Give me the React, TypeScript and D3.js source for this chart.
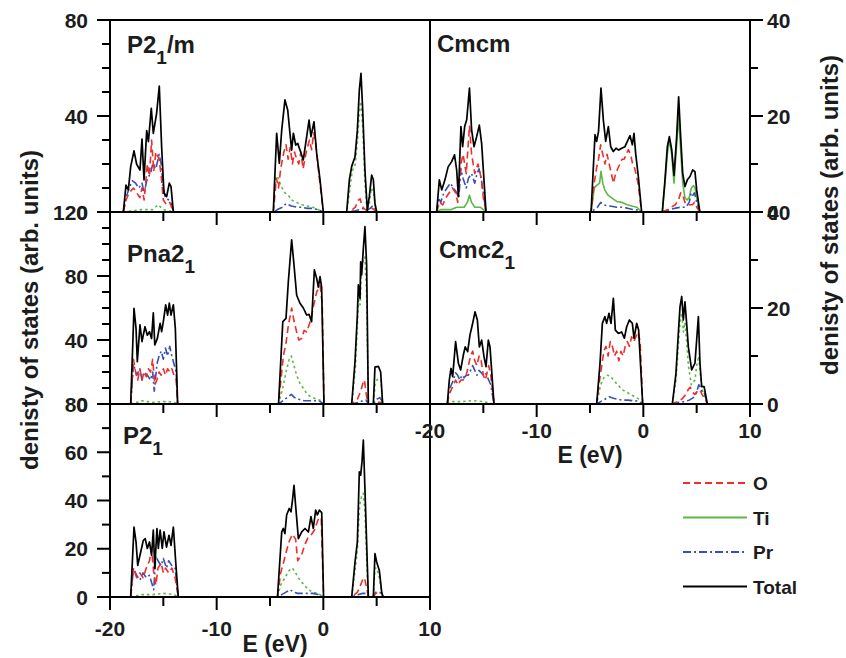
import React from 'react';
import * as d3 from 'd3';

type Pt = [number, number];

// ---------- Data: energies (eV) and DOS values (arb. units) ----------
// P2_1/m
const p21m_Total: Pt[] = [[-18.75,0],[-18.5,11.2],[-18.28,9.2],[-18.06,18.9],[-17.75,25.5],[-17.5,19.9],[-17.19,17.5],[-17.0,30.4],[-16.81,13.4],[-16.56,33.9],[-16.4,29.3],[-16.13,43.2],[-15.94,32.8],[-15.63,41.1],[-15.38,52.5],[-15.16,27.2],[-14.94,7.8],[-14.69,6.4],[-14.44,12.0],[-14.28,10.6],[-14.06,0],[-4.69,0],[-4.375,32.8],[-4.125,20.3],[-3.9,34.2],[-3.6,46.7],[-3.34,42.5],[-3.13,32.8],[-2.97,25.8],[-2.81,32.8],[-2.59,27.9],[-2.4,28.6],[-2.19,25.8],[-1.88,21.7],[-1.56,31.4],[-1.34,38.3],[-1.16,31.4],[-0.875,37.6],[-0.625,24.4],[-0.31,13.4],[0,0],[2.19,0],[2.44,13.4],[2.66,19],[2.97,23],[3.19,34],[3.375,50.8],[3.53,57.8],[3.69,42.5],[3.9,17.5],[4.125,0.7],[4.31,6.4],[4.53,15.4],[4.69,13.4],[4.84,3.5],[5.0,0]];
const p21m_O: Pt[] = [[-18.75,0],[-18.5,5],[-18.2,8],[-17.8,10],[-17.5,8],[-17.2,6],[-17.0,10],[-16.8,5],[-16.5,20],[-16.3,15],[-16.1,30],[-15.9,17],[-15.7,25],[-15.4,22],[-15.2,15],[-15.0,5],[-14.7,3],[-14.4,4],[-14.06,0],[-4.69,0],[-4.4,14],[-4.2,10],[-4.0,18],[-3.7,25],[-3.5,28],[-3.3,22],[-3.1,27],[-2.9,20],[-2.7,25],[-2.5,22],[-2.3,20],[-2.1,25],[-1.9,18],[-1.6,25],[-1.3,30],[-1.1,26],[-0.9,33],[-0.7,28],[-0.4,15],[0,0],[2.19,0],[2.6,0.5],[3.0,2],[3.3,5],[3.45,5.5],[3.6,3],[3.8,1.5],[4.1,0.5],[4.4,1],[4.6,1.5],[5.0,0]];
const p21m_Ti: Pt[] = [[-18.75,0],[-18,0.5],[-17,1],[-16,1],[-15.5,3],[-15,1],[-14.5,0.5],[-14.06,0],[-4.69,0],[-4.5,15],[-4.2,14],[-4.0,11],[-3.6,8],[-3.2,6.5],[-3.0,5],[-2.5,4],[-2.0,3],[-1.5,2.5],[-1.0,2],[-0.5,1],[0,0],[2.19,0],[2.5,10],[2.7,17],[3.0,20],[3.2,30],[3.4,43],[3.5,46],[3.7,35],[3.9,12],[4.1,0.5],[4.3,3],[4.5,10],[4.7,8],[4.9,2],[5.0,0]];
const p21m_Pr: Pt[] = [[-18.75,0],[-18.5,6],[-18.2,10],[-17.9,13],[-17.6,12],[-17.3,10],[-17.0,12],[-16.8,8],[-16.5,14],[-16.2,16],[-16.0,20],[-15.7,18],[-15.4,24],[-15.2,20],[-15.0,10],[-14.8,6],[-14.5,5],[-14.2,3],[-14.06,0],[-4.69,0],[-4.3,1],[-3.8,2],[-3.5,3.5],[-3.0,2.5],[-2.5,2],[-2.0,2],[-1.5,1.5],[-1.0,1.5],[-0.5,1],[0,0],[2.19,0],[3.0,0.5],[3.4,1],[3.7,1.5],[4.0,0.5],[4.4,1.5],[4.6,2.5],[4.8,2],[5.0,0]];

// Pna2_1
const pna21_Total: Pt[] = [[-18.06,0],[-17.75,59.8],[-17.56,47.3],[-17.44,26.5],[-17.19,49.4],[-17.0,39],[-16.72,48.3],[-16.5,43],[-16.3,45.2],[-16.1,41],[-15.94,57],[-15.8,36.9],[-15.56,41],[-15.3,50.4],[-15.16,45.2],[-15.0,51.5],[-14.78,62],[-14.6,55.6],[-14.44,63],[-14.28,55.6],[-14.06,62],[-13.875,47.3],[-13.66,0],[-4.2,0],[-3.8,51.5],[-3.5,53.5],[-3.28,76.6],[-2.97,102.6],[-2.75,86.9],[-2.5,68],[-2.19,63],[-1.875,60],[-1.56,55.6],[-1.34,56],[-1.1,51.5],[-0.84,83.8],[-0.625,78.5],[-0.47,73],[-0.31,79.6],[-0.16,73],[0.06,0],[2.66,0],[2.97,26.5],[3.19,55.6],[3.28,74.4],[3.44,66],[3.5,88.9],[3.59,80.6],[3.75,97],[3.9,110.8],[4.06,86.9],[4.22,0],[4.69,0],[4.84,23],[5.16,23.5],[5.375,20],[5.56,0]];
const pna21_O: Pt[] = [[-18.06,0],[-17.8,28],[-17.6,20],[-17.4,15],[-17.2,22],[-17.0,15],[-16.8,20],[-16.6,17],[-16.4,22],[-16.2,20],[-16.0,28],[-15.8,12],[-15.6,15],[-15.4,20],[-15.2,18],[-15.0,22],[-14.8,18],[-14.6,22],[-14.4,20],[-14.2,22],[-14.0,18],[-13.8,15],[-13.66,0],[-4.2,0],[-3.9,20],[-3.75,30],[-3.5,38],[-3.28,49],[-2.97,60],[-2.75,52],[-2.5,45],[-2.3,40],[-2.03,41],[-1.8,46],[-1.56,45],[-1.3,50],[-1.1,55],[-0.9,62],[-0.625,70],[-0.3,74],[-0.1,62],[0.06,0],[2.66,0],[3.2,3],[3.5,8],[3.75,14],[3.85,15],[4.05,5],[4.22,0],[4.69,0],[5.0,1],[5.5,1],[5.56,0]];
const pna21_Ti: Pt[] = [[-18.06,0],[-17.5,1],[-17,2],[-16.5,1.5],[-16,1],[-15,1.5],[-14.5,1.5],[-14,1],[-13.66,0],[-4.2,0],[-3.8,10],[-3.5,20],[-3.2,28],[-3.0,30],[-2.8,25],[-2.5,18],[-2.2,13],[-1.9,10],[-1.6,7],[-1.3,5],[-1.0,4],[-0.6,3],[-0.2,2],[0.06,0],[2.66,0],[3.0,22],[3.2,50],[3.3,65],[3.45,62],[3.55,80],[3.75,90],[3.9,92],[4.05,70],[4.22,0],[4.69,0],[4.85,12],[5.1,16],[5.4,15],[5.56,0]];
const pna21_Pr: Pt[] = [[-18.06,0],[-17.8,25],[-17.5,18],[-17.2,22],[-17.0,15],[-16.8,20],[-16.5,18],[-16.2,15],[-16.0,20],[-15.85,8],[-15.6,25],[-15.4,30],[-15.2,33],[-15.0,28],[-14.8,35],[-14.6,30],[-14.4,36],[-14.2,30],[-14.0,25],[-13.8,20],[-13.66,0],[-4.2,0],[-3.8,2],[-3.4,4],[-3.0,6],[-2.7,4],[-2.3,3],[-1.8,2],[-1.3,2],[-0.8,2],[-0.4,2],[0.06,0],[2.66,0],[3.3,1],[3.7,2],[4.0,2.5],[4.22,0],[4.69,0],[5.0,3],[5.3,4],[5.5,2],[5.56,0]];

// P2_1
const p21_Total: Pt[] = [[-18.06,0],[-17.75,29],[-17.56,22.8],[-17.4,13.1],[-17.19,17.3],[-16.875,23.5],[-16.7,24.2],[-16.5,20.1],[-16.3,22.8],[-16.1,17.3],[-15.94,27.7],[-15.8,11.8],[-15.6,28.4],[-15.47,20.1],[-15.3,27.7],[-15.1,20.1],[-14.94,27],[-14.7,20.7],[-14.47,25.6],[-14.28,21.4],[-14.06,29],[-13.84,14.5],[-13.6,0],[-4.3,0],[-3.9,27],[-3.75,28.4],[-3.6,26.3],[-3.44,34],[-3.2,36.7],[-3.03,35.3],[-2.875,40.8],[-2.75,46.3],[-2.6,38],[-2.34,24.2],[-2.03,27],[-1.72,28.4],[-1.4,27],[-1.16,33.3],[-0.94,28.4],[-0.72,36],[-0.56,34],[-0.375,36],[-0.15,35],[0.02,0],[2.66,0],[2.97,14.5],[3.19,22.8],[3.375,51.9],[3.5,50.5],[3.625,56],[3.75,65],[3.9,45],[4.125,13.1],[4.22,0],[4.69,0],[4.84,18],[5.0,14.5],[5.25,11],[5.47,2],[5.6,0]];
const p21_O: Pt[] = [[-18.06,0],[-17.8,12],[-17.5,8],[-17.2,10],[-16.9,8],[-16.6,12],[-16.3,15],[-16.1,20],[-15.9,10],[-15.7,5],[-15.5,12],[-15.2,14],[-15.0,10],[-14.8,12],[-14.5,10],[-14.2,12],[-13.9,8],[-13.6,0],[-4.3,0],[-4.0,10],[-3.75,14],[-3.4,20],[-3.2,23],[-2.9,26],[-2.6,24],[-2.4,15],[-2.0,18],[-1.7,22],[-1.4,25],[-1.1,26],[-0.8,28],[-0.5,32],[-0.2,33],[0.02,0],[2.66,0],[3.2,2],[3.5,5],[3.75,8],[3.9,7],[4.1,3],[4.22,0],[4.69,0],[4.9,1.5],[5.2,2],[5.47,1.5],[5.6,0]];
const p21_Ti: Pt[] = [[-18.06,0],[-17,1],[-16,1],[-15,1.5],[-14,1],[-13.6,0],[-4.3,0],[-4.0,5],[-3.6,8],[-3.2,11],[-2.9,12],[-2.6,10],[-2.2,7],[-1.8,5],[-1.4,3],[-1.0,2],[-0.5,1.5],[0.02,0],[2.66,0],[3.0,12],[3.2,20],[3.4,38],[3.6,42],[3.75,43],[3.9,35],[4.1,12],[4.22,0],[4.69,0],[4.84,12],[5.0,12],[5.25,8],[5.47,2],[5.6,0]];
const p21_Pr: Pt[] = [[-18.06,0],[-17.8,12],[-17.5,9],[-17.2,7],[-16.9,10],[-16.6,8],[-16.3,9],[-16.1,6],[-15.9,3],[-15.7,17],[-15.5,15],[-15.2,13],[-15.0,16],[-14.7,12],[-14.5,15],[-14.2,13],[-13.9,12],[-13.6,0],[-4.3,0],[-3.9,1],[-3.5,2],[-3.1,3],[-2.8,2],[-2.4,1.5],[-2.0,1.5],[-1.5,1.5],[-1.0,1.5],[-0.5,1],[0.02,0],[2.66,0],[3.3,1],[3.7,1.5],[4.0,1.5],[4.22,0],[4.69,0],[4.9,2],[5.2,2],[5.5,1.5],[5.6,0]];

// Cmcm
const cmcm_Total: Pt[] = [[-19.375,0],[-19.125,6.7],[-18.9,4.6],[-18.6,6.7],[-18.3,9.4],[-17.97,10.5],[-17.7,11.9],[-17.5,8.75],[-17.34,3.2],[-17.1,17.8],[-16.94,13.6],[-16.75,17.8],[-16.56,19.2],[-16.3,25.8],[-16.1,17.1],[-15.875,13.6],[-15.625,15.7],[-15.375,18.1],[-15.16,14.3],[-14.94,6.7],[-14.75,0],[-4.9,0],[-4.53,16.1],[-4.375,14.7],[-4.2,16.8],[-3.97,25.8],[-3.75,19.2],[-3.53,14.7],[-3.28,17.8],[-3.06,13.6],[-2.81,12.6],[-2.56,13.3],[-2.31,12.9],[-2.03,13.3],[-1.72,13.6],[-1.5,14.7],[-1.25,15.9],[-1.03,14],[-0.875,16.4],[-0.72,12.2],[-0.47,7.4],[-0.16,0],[1.78,0],[2.03,6.7],[2.25,13.6],[2.44,15.7],[2.66,13],[2.875,7.6],[3.125,15.7],[3.31,24.0],[3.5,15.7],[3.69,8.1],[3.9,5.3],[4.125,6.7],[4.375,7.4],[4.625,8.75],[4.84,8.4],[5.0,4.6],[5.3,0]];
const cmcm_O: Pt[] = [[-19.375,0],[-19.1,2],[-18.8,1.5],[-18.5,3],[-18.2,4],[-17.9,5],[-17.6,4],[-17.4,2],[-17.1,10],[-16.9,12],[-16.6,8],[-16.3,18],[-16.1,12],[-15.8,8],[-15.5,10],[-15.2,7],[-15.0,3],[-14.75,0],[-4.9,0],[-4.6,6],[-4.4,9],[-4.2,11],[-4.0,14],[-3.8,12],[-3.6,10],[-3.4,12],[-3.2,10],[-3.0,8],[-2.8,6],[-2.6,8],[-2.4,9],[-2.2,10],[-2.0,11],[-1.8,11],[-1.6,12],[-1.4,13],[-1.2,12],[-1.0,10],[-0.8,9],[-0.5,6],[-0.16,0],[1.78,0],[2.3,0.5],[2.6,1],[3.0,1.5],[3.3,2.5],[3.5,4],[3.7,3.5],[3.9,2],[4.1,2],[4.3,1.5],[4.6,1.5],[4.8,2],[5.0,1],[5.3,0]];
const cmcm_Ti: Pt[] = [[-19.375,0],[-19,0.5],[-18,0.5],[-17.5,1],[-16.8,1],[-16.5,2],[-16.3,3.5],[-16.1,2],[-15.8,1],[-15.3,1],[-15,0.5],[-14.75,0],[-4.9,0],[-4.6,5],[-4.4,5.5],[-4.1,6],[-3.97,8.5],[-3.8,6],[-3.6,4.5],[-3.3,3.5],[-3.0,3],[-2.5,2.2],[-2.0,2],[-1.5,1.5],[-1.0,1.2],[-0.6,1],[-0.16,0],[1.78,0],[2.03,6],[2.25,12],[2.44,15],[2.66,12],[2.875,6],[3.125,14],[3.31,20],[3.5,13],[3.69,6],[3.9,3],[4.1,2.5],[4.3,3],[4.5,5],[4.7,5.5],[4.85,5],[5.0,3],[5.3,0]];
const cmcm_Pr: Pt[] = [[-19.375,0],[-19.2,3],[-19.0,2],[-18.7,4],[-18.4,5],[-18.1,6],[-17.8,5],[-17.5,4],[-17.3,3],[-17.1,9],[-16.9,7],[-16.6,5],[-16.4,7],[-16.1,8],[-15.8,6],[-15.6,8],[-15.4,9],[-15.2,7],[-15.0,4],[-14.75,0],[-4.9,0],[-4.6,0.5],[-4.3,1],[-4.0,2],[-3.7,1.5],[-3.4,1.3],[-3.0,1.2],[-2.5,1],[-2.0,1],[-1.5,0.8],[-1.0,0.5],[-0.5,0.4],[-0.16,0],[1.78,0],[2.5,0.5],[3.0,0.8],[3.5,1],[4.0,1],[4.3,2],[4.5,4],[4.65,3.5],[4.8,4],[5.0,2],[5.3,0]];

// Cmc2_1
const cmc21_Total: Pt[] = [[-18.375,0],[-18.19,5],[-18.03,7.4],[-17.875,5.7],[-17.6,13],[-17.34,8.5],[-17.125,7.1],[-16.875,10.2],[-16.7,11.9],[-16.47,10.9],[-16.25,14.4],[-16.03,16.5],[-15.78,19.2],[-15.56,17.5],[-15.375,11.9],[-15.16,13.3],[-14.94,9.9],[-14.75,7.8],[-14.53,13.3],[-14.375,11.9],[-14.0,0],[-4.375,0],[-4.06,8.5],[-3.84,16.8],[-3.6,18.2],[-3.44,16.8],[-3.22,18.9],[-3.03,16.8],[-2.81,22],[-2.625,15.4],[-2.34,14.7],[-2.03,15],[-1.78,13.7],[-1.56,16.1],[-1.31,17.5],[-1.03,16.8],[-0.875,13.7],[-0.625,16.8],[-0.44,15.4],[-0.06,0],[2.72,0],[3.06,6.4],[3.28,14.7],[3.44,20.3],[3.6,22.4],[3.75,17.5],[3.9,21.3],[4.06,16.8],[4.22,11.9],[4.53,7.1],[4.84,8.5],[5.0,13.3],[5.16,18.2],[5.31,8.5],[5.47,3.6],[5.7,3.6],[6.0,0]];
const cmc21_O: Pt[] = [[-18.375,0],[-18.2,2],[-18,3],[-17.8,4],[-17.6,5],[-17.4,4],[-17.1,5],[-16.9,5],[-16.6,6],[-16.4,8],[-16.2,10],[-16.0,11],[-15.8,9],[-15.6,8],[-15.4,10],[-15.2,9],[-15.0,6],[-14.8,5],[-14.5,8],[-14.3,6],[-14.0,0],[-4.375,0],[-4.1,5],[-3.9,8],[-3.7,11],[-3.5,12],[-3.3,10],[-3.1,13],[-2.9,12],[-2.7,10],[-2.5,11],[-2.3,9],[-2.1,11],[-1.9,10],[-1.7,12],[-1.5,13],[-1.3,12],[-1.1,14],[-0.9,13],[-0.7,14],[-0.5,15],[-0.3,13],[-0.06,0],[2.72,0],[3.2,0.5],[3.6,1],[4.0,2],[4.2,3],[4.4,3.5],[4.6,2.5],[4.8,2],[5.0,2.5],[5.3,3],[5.5,2],[5.8,1],[6.0,0]];
const cmc21_Ti: Pt[] = [[-18.375,0],[-18,0.5],[-17,0.5],[-16,0.7],[-15,0.5],[-14,0],[-4.375,0],[-4.0,4],[-3.7,5.5],[-3.4,6],[-3.1,5.8],[-2.8,5],[-2.4,4],[-2.0,3],[-1.6,2.5],[-1.2,2],[-0.8,1.5],[-0.4,1],[-0.06,0],[2.72,0],[3.06,5],[3.28,12],[3.44,17],[3.6,19],[3.75,15],[3.9,17],[4.06,13],[4.22,8],[4.5,4],[4.84,5],[5.0,8],[5.2,10],[5.35,6],[5.5,3],[5.7,2],[6.0,0]];
const cmc21_Pr: Pt[] = [[-18.375,0],[-18.2,3],[-18,4],[-17.8,5],[-17.6,6.5],[-17.4,6],[-17.2,5],[-17,6],[-16.8,5.5],[-16.6,6],[-16.4,6],[-16.2,7],[-16,8],[-15.8,7],[-15.6,6],[-15.4,7],[-15.2,6.5],[-15,6],[-14.8,6.5],[-14.5,5],[-14.3,4],[-14,0],[-4.375,0],[-4.0,0.5],[-3.6,1],[-3.2,1.5],[-2.8,1.2],[-2.4,1],[-2,0.8],[-1.5,0.8],[-1.0,0.7],[-0.5,0.6],[-0.06,0],[2.72,0],[3.2,0.3],[3.8,0.5],[4.3,0.8],[4.8,1.5],[5.0,2.5],[5.2,4],[5.35,3.5],[5.5,2.5],[5.7,2.5],[6.0,0]];

// Tick values and labels
const xTickValues = [-20, -15, -10, -5, 0, 5, 10];
const xTickLabels = [-20, -10, 0, 10];
const legendNames = ['O', 'Ti', 'Pr', 'Total'];

// ---------- Styling / layout ----------
const FONT = "'Liberation Sans', Arial, Helvetica, sans-serif";
const TXT = '#1c1c1c';
const styles: Record<string, { color: string; dash?: string }> = {
  O: { color: '#ec2f2a', dash: '7,4' },
  Ti: { color: '#5cb848', dash: '2.5,3' },
  Pr: { color: '#3550b8', dash: '8,3,2,3' },
  Total: { color: '#000000' },
};

type Panel = {
  id: string; name: string; sub?: string; tail?: string;
  side: 'left' | 'right'; top: number; bottom: number; yMax: number;
  yLabels: number[]; tiSolid?: boolean; showX?: boolean;
  lx: number; ly: number;
  series: Record<string, Pt[]>;
};

const panels: Panel[] = [
  { id: 'p21m', name: 'P2', sub: '1', tail: '/m', side: 'left', top: 20, bottom: 212, yMax: 80, yLabels: [0, 40, 80], lx: 127, ly: 53,
    series: { Ti: p21m_Ti, Pr: p21m_Pr, O: p21m_O, Total: p21m_Total } },
  { id: 'pna21', name: 'Pna2', sub: '1', side: 'left', top: 212, bottom: 404, yMax: 120, yLabels: [0, 40, 80, 120], lx: 127, ly: 262,
    series: { Ti: pna21_Ti, Pr: pna21_Pr, O: pna21_O, Total: pna21_Total } },
  { id: 'p21', name: 'P2', sub: '1', side: 'left', top: 404, bottom: 597, yMax: 80, yLabels: [0, 20, 40, 60, 80], lx: 123, ly: 444, showX: true,
    series: { Ti: p21_Ti, Pr: p21_Pr, O: p21_O, Total: p21_Total } },
  { id: 'cmcm', name: 'Cmcm', side: 'right', top: 20, bottom: 212, yMax: 40, yLabels: [0, 20, 40], lx: 437, ly: 52, tiSolid: true,
    series: { Ti: cmcm_Ti, Pr: cmcm_Pr, O: cmcm_O, Total: cmcm_Total } },
  { id: 'cmc21', name: 'Cmc2', sub: '1', side: 'right', top: 212, bottom: 404, yMax: 40, yLabels: [0, 20, 40], lx: 439, ly: 258, showX: true,
    series: { Ti: cmc21_Ti, Pr: cmc21_Pr, O: cmc21_O, Total: cmc21_Total } },
];

const xLeft = d3.scaleLinear().domain([-20, 10]).range([110, 430]);
const xRight = d3.scaleLinear().domain([-20, 10]).range([430, 750]);

function PanelView({ p }: { p: Panel }) {
  const x = p.side === 'left' ? xLeft : xRight;
  const y = d3.scaleLinear().domain([0, p.yMax]).range([p.bottom, p.top]);
  const line = d3.line<Pt>().x(d => x(d[0])).y(d => y(d[1]));
  const [x0, x1] = x.range();
  const minorVals = d3.range(0, p.yMax + 0.001, 10);
  const isLeft = p.side === 'left';
  const axisX = isLeft ? x0 : x1;
  const dir = isLeft ? -1 : 1;
  return (
    <g>
      <clipPath id={`clip-${p.id}`}>
        <rect x={x0} y={p.top} width={x1 - x0} height={p.bottom - p.top} />
      </clipPath>
      <g clipPath={`url(#clip-${p.id})`} fill="none" strokeLinejoin="round">
        {['Ti', 'Pr', 'O', 'Total'].map(k => {
          const st = styles[k];
          const dash = k === 'Ti' && p.tiSolid ? undefined : st.dash;
          return (
            <path key={k} d={line(p.series[k]) || ''} stroke={st.color}
              strokeWidth={k === 'Total' ? 1.7 : 1.6} strokeDasharray={dash} />
          );
        })}
      </g>
      {/* frame */}
      <rect x={x0} y={p.top} width={x1 - x0} height={p.bottom - p.top} fill="none" stroke="#000" strokeWidth={2} />
      {/* x ticks */}
      {xTickValues.map(v => (
        <line key={`xt${v}`} x1={x(v)} x2={x(v)} y1={p.bottom} y2={p.bottom + (v % 10 === 0 ? 13 : 9)} stroke="#000" strokeWidth={2} />
      ))}
      {/* y ticks */}
      {minorVals.map(v => {
        const major = p.yLabels.includes(v);
        return (
          <line key={`yt${v}`} x1={axisX} x2={axisX + dir * (major ? 13 : 8)} y1={y(v)} y2={y(v)} stroke="#000" strokeWidth={2} />
        );
      })}
      {p.yLabels.map(v => (
        <text key={`yl${v}`} x={isLeft ? 88 : 767} y={y(v) + 7.5} textAnchor={isLeft ? 'end' : 'start'}
          fontSize={21} fontWeight="bold" fill={TXT}>{v}</text>
      ))}
      {p.showX && xTickLabels.map(v => (
        <text key={`xl${v}`} x={x(v)} y={isLeft ? 636 : 438} textAnchor="middle" fontSize={21} fontWeight="bold" fill={TXT}>{v}</text>
      ))}
      <text x={p.lx} y={p.ly} fontSize={24} fontWeight="bold" fill={TXT}>
        <tspan>{p.name}</tspan>
        {p.sub && <tspan dy={11} fontSize={19}>{p.sub}</tspan>}
        {p.tail && <tspan dy={-11}>{p.tail}</tspan>}
      </text>
    </g>
  );
}

export default function App() {
  const legendTop = 483;
  const legendGap = 34.5;
  return (
    <svg width={846} height={658} style={{ position: 'absolute', left: 0, top: 0, background: '#fff' }} fontFamily={FONT}>
      <rect x={0} y={0} width={846} height={658} fill="#fff" />
      {panels.map(p => <PanelView key={p.id} p={p} />)}
      {/* axis titles */}
      <text x={275} y={652} textAnchor="middle" fontSize={23} fontWeight="bold" fill={TXT}>E (eV)</text>
      <text x={590} y={463} textAnchor="middle" fontSize={23} fontWeight="bold" fill={TXT}>E (eV)</text>
      <text transform="translate(38,310) rotate(-90)" textAnchor="middle" fontSize={24} fontWeight="bold" fill={TXT}>denisty of states (arb. units)</text>
      <text transform="translate(838,215) rotate(-90)" textAnchor="middle" fontSize={24} fontWeight="bold" fill={TXT}>denisty of states (arb. units)</text>
      {/* legend */}
      {legendNames.map((k, i) => {
        const yy = legendTop + i * legendGap;
        const st = styles[k];
        return (
          <g key={k}>
            <line x1={683} x2={747} y1={yy} y2={yy} stroke={st.color} strokeWidth={1.8}
              strokeDasharray={k === 'Ti' ? undefined : st.dash} />
            <text x={753} y={yy + 7} fontSize={19} fontWeight="bold" fill={TXT}>{k}</text>
          </g>
        );
      })}
    </svg>
  );
}
